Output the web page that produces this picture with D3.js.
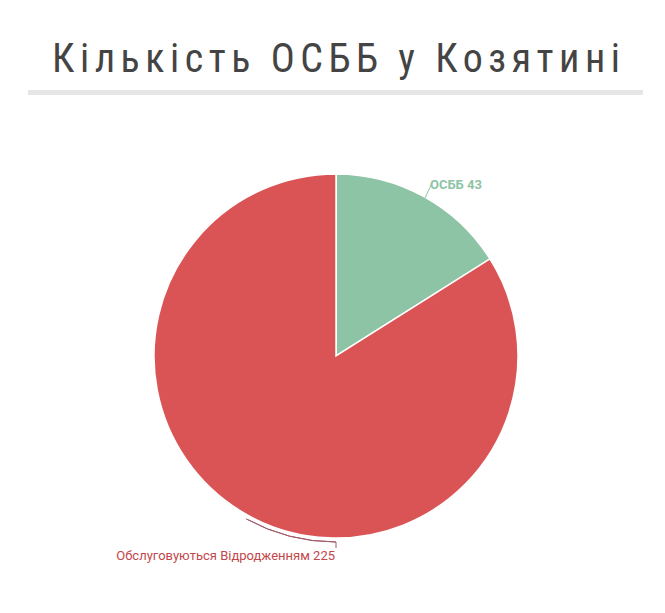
<!DOCTYPE html>
<html><head><meta charset="utf-8">
<script src="https://cdn.jsdelivr.net/npm/d3@7"></script>
<style>body{margin:0;background:#fff;} text{font-family:Roboto,sans-serif;}</style>
</head><body>
<div id="vis"></div>
<script>
var w = 665, h = 613;
var labels = ["ОСББ", "Обслуговуються Відродженням"];
var values = [43, 225];
var colors = ["#8dc4a6", "#db5455"];

var cx = 336, cy = 356, r = 182;

var svg = d3.select("#vis").append("svg").attr("width", w).attr("height", h);

//title
svg.append("text")
	.text("Кількість ОСББ у Козятині")
	.attr("x", 336).attr("y", 72)
	.attr("text-anchor", "middle")
	.attr("fill", "#444")
	.style("font-size", "40px")
	.style("font-stretch", "condensed")
	.attr("textLength", 568);

svg.append("rect").attr("x", 28).attr("y", 90).attr("width", 615).attr("height", 5).attr("fill", "#e6e6e6");

var pie = d3.pie().sort(null).value(function(d) { return d; });
var arcs = pie(values);
var arc = d3.arc().innerRadius(0).outerRadius(r);

var g = svg.append("g").attr("transform", "translate(" + cx + "," + cy + ")");
g.selectAll("path").data(arcs).enter().append("path")
	.attr("d", arc)
	.attr("fill", function(d, i) { return colors[i]; })
	.attr("stroke", "#fff")
	.attr("stroke-width", 1.5);

//leader green
g.append("line").attr("x1", 89).attr("y1", -158).attr("x2", 96).attr("y2", -173)
	.attr("stroke", "#8dc4a6").attr("stroke-width", 1);
g.append("text").text(labels[0] + " " + values[0])
	.attr("x", 94).attr("y", -167)
	.attr("fill", "#8dc4a6").style("font-size", "13px").style("font-weight", "bold");

//leader red
var lead = d3.arc().innerRadius(r + 4).outerRadius(r + 4).startAngle(Math.PI).endAngle(Math.PI * 1.16);
g.append("path").attr("d", lead).attr("fill", "none").attr("stroke", "#a05a6a").attr("stroke-width", 1);
g.append("line").attr("x1", 0).attr("y1", r + 4).attr("x2", 0).attr("y2", r + 10)
	.attr("stroke", "#a05a6a").attr("stroke-width", 1);
g.append("text").text(labels[1] + " " + values[1])
	.attr("x", -1).attr("y", r + 22).attr("text-anchor", "end")
	.attr("fill", "#c2474b").style("font-size", "13px");
</script>
</body></html>
